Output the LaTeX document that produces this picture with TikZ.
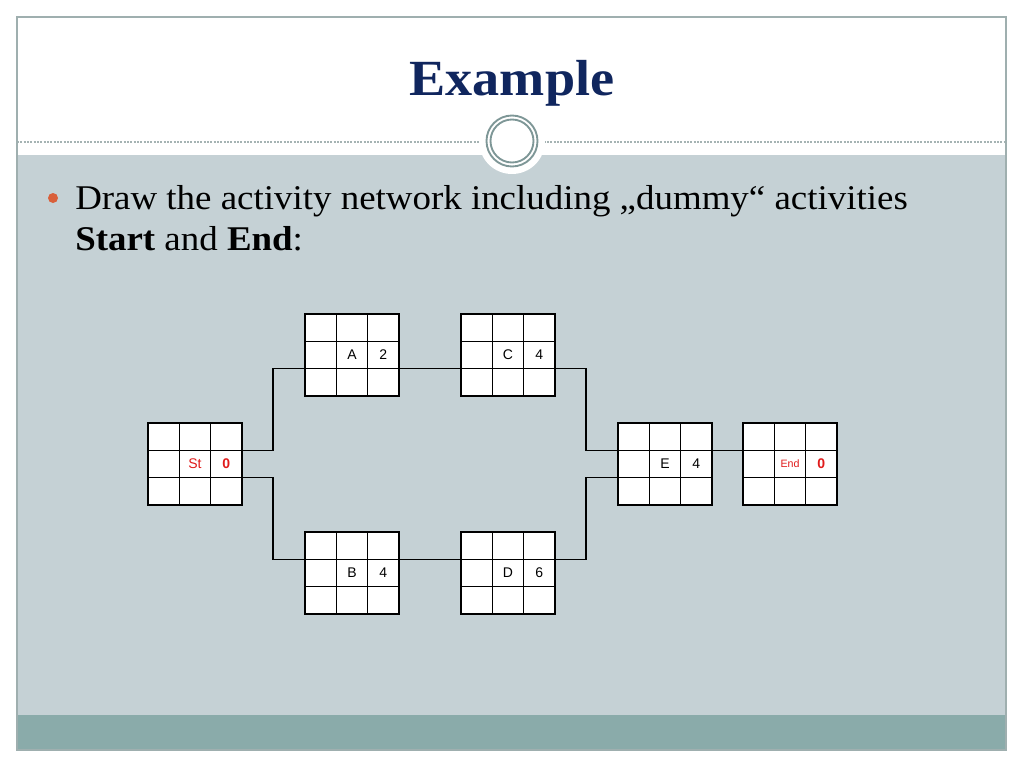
\documentclass[tikz,border=0pt]{standalone}
\usepackage{fontspec}
\setmainfont{Liberation Serif}
\setsansfont{Liberation Sans}
\newfontfamily\bodyfont{Liberation Serif}[FakeStretch=1.065]
\newfontfamily\titlefont{Liberation Serif}[FakeStretch=1.07]
\usetikzlibrary{calc}
\definecolor{band}{HTML}{C5D1D5}
\definecolor{bar}{HTML}{8AABAA}
\definecolor{ring}{HTML}{7E9797}
\definecolor{framec}{HTML}{9FAFAF}
\definecolor{dashc}{HTML}{A5B3B3}
\definecolor{titleblue}{HTML}{10265E}
\definecolor{bulletc}{HTML}{D9603B}
\definecolor{startred}{HTML}{E01B1B}
\tikzset{
 gridbox/.style={draw=black, fill=white, line width=1.1pt, minimum width=70.5pt, minimum height=61.5pt, inner sep=0pt, outer sep=0pt},
 gridline/.style={draw=black, line width=1.1pt},
 cell/.style={font=\sffamily\fontsize{10.5}{12}\selectfont, inner sep=0pt},
 redcell/.style={cell, text=startred},
 redbold/.style={cell, text=startred, font=\sffamily\bfseries\fontsize{10.5}{12}\selectfont},
 endcell/.style={cell, text=startred, font=\sffamily\fontsize{8}{10}\selectfont},
 link/.style={draw=black, line width=1.1pt},
 bodytext/.style={anchor=base west, inner sep=0pt, font=\bodyfont\fontsize{26}{30}\selectfont},
}
\newcommand\actbox[7]{%
 \node[gridbox] (#1) at (#2,#3) {};
 \draw[gridline] ($(#1.north west)!0.3333!(#1.north east)$) -- ($(#1.south west)!0.3333!(#1.south east)$);
 \draw[gridline] ($(#1.north west)!0.6667!(#1.north east)$) -- ($(#1.south west)!0.6667!(#1.south east)$);
 \draw[gridline] ($(#1.north west)!0.3333!(#1.south west)$) -- ($(#1.north east)!0.3333!(#1.south east)$);
 \draw[gridline] ($(#1.north west)!0.6667!(#1.south west)$) -- ($(#1.north east)!0.6667!(#1.south east)$);
 \node[#5] (#1-n) at (#1.center) {#4};
 \node[#7] (#1-d) at ($(#1.center)!0.6667!(#1.east)$) {#6};
}
\begin{document}
\begin{tikzpicture}[x=0.75pt,y=-0.75pt]
\useasboundingbox (0,0) rectangle (1024,768);
\fill[white] (0,0) rectangle (1024,768);
\fill[band] (17,155) rectangle (1006,715);
\fill[bar] (17,715) rectangle (1006,750);
\draw[dashc, dash pattern=on 1.5pt off 1pt, line width=0.8pt] (17,142) -- (1006,142);
\fill[white] (512,141) circle (33);
\draw[ring, line width=1.4pt] (512,141) circle (25.5);
\draw[ring, line width=1.4pt] (512,141) circle (21.5);
\draw[framec, line width=0.8pt] (17,17) rectangle (1006,750);

\node[anchor=base, inner sep=0pt, text=titleblue, font=\titlefont\bfseries\fontsize{38}{40}\selectfont] (title) at (512,95) {Example};
\fill[bulletc] (53,198) circle (5);
\node[bodytext] (line1) at (75,209) {Draw the activity network including „dummy“ activities};
\node[bodytext] (line2) at (75,250) {\textbf{Start} and \textbf{End}:};

\actbox{St}{195}{464}{St}{redcell}{0}{redbold}
\actbox{A}{352}{355}{A}{cell}{2}{cell}
\actbox{C}{508}{355}{C}{cell}{4}{cell}
\actbox{B}{352}{573}{B}{cell}{4}{cell}
\actbox{D}{508}{573}{D}{cell}{6}{cell}
\actbox{E}{665}{464}{E}{cell}{4}{cell}
\actbox{End}{790}{464}{End}{endcell}{0}{redbold}

\draw[link] ($(St.north east)!0.3333!(St.south east)$) -- ++(31,0) |- ($(A.north west)!0.6667!(A.south west)$);
\draw[link] ($(St.north east)!0.6667!(St.south east)$) -- ++(31,0) |- ($(B.north west)!0.3333!(B.south west)$);
\draw[link] ($(A.north east)!0.6667!(A.south east)$) -- ($(C.north west)!0.6667!(C.south west)$);
\draw[link] ($(B.north east)!0.3333!(B.south east)$) -- ($(D.north west)!0.3333!(D.south west)$);
\draw[link] ($(C.north east)!0.6667!(C.south east)$) -- ++(31,0) |- ($(E.north west)!0.3333!(E.south west)$);
\draw[link] ($(D.north east)!0.3333!(D.south east)$) -- ++(31,0) |- ($(E.north west)!0.6667!(E.south west)$);
\draw[link] ($(E.north east)!0.3333!(E.south east)$) -- ($(End.north west)!0.3333!(End.south west)$);
\end{tikzpicture}
\end{document}
